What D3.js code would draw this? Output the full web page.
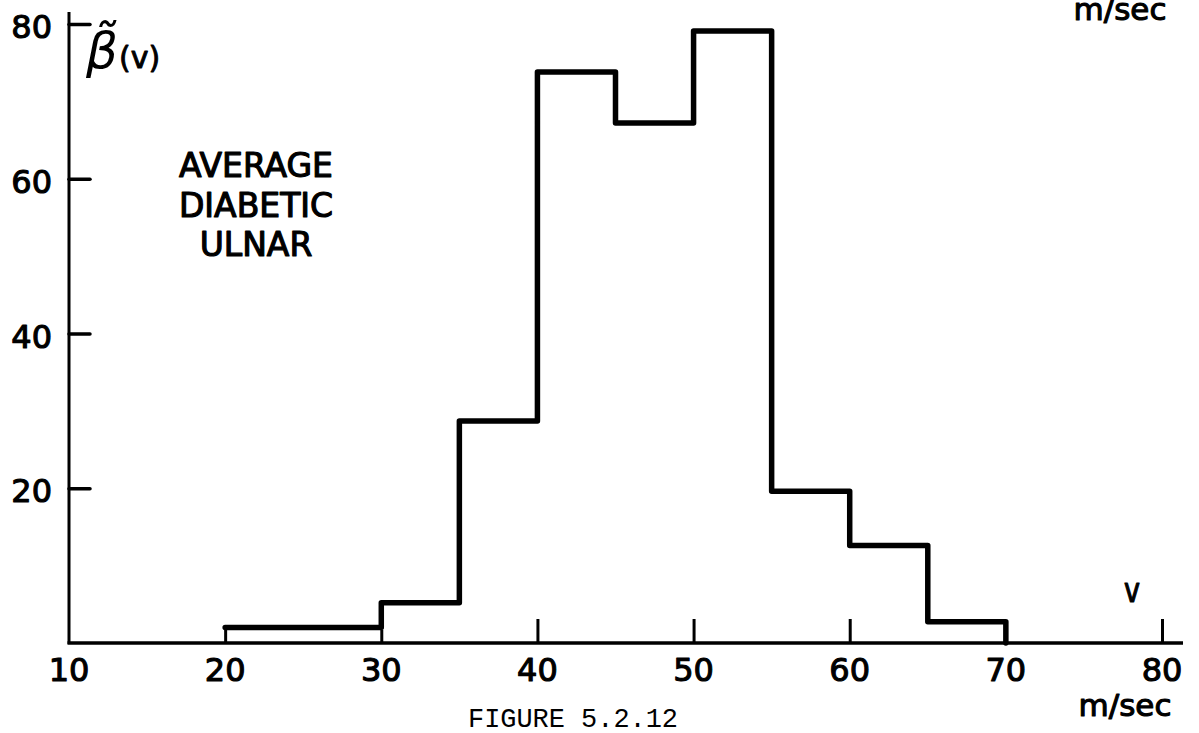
<!DOCTYPE html>
<html><head><meta charset="utf-8">
<script src="https://cdn.jsdelivr.net/npm/d3@7"></script>
<style>
html,body{margin:0;padding:0;background:#fff;}
svg{display:block;}
</style></head>
<body>
<svg id="chart" width="1199" height="733"></svg>
<script>
// Data
const binEdges = [20, 30, 35, 40, 45, 50, 55, 60, 65, 70];
const binValues = [2.0, 5.2, 28.7, 73.8, 67.2, 79.1, 19.6, 12.6, 2.75];
const xTickLabels = [10, 20, 30, 40, 50, 60, 70, 80];
const xTickMarksLong = [40, 50, 60, 80];
const xTickMarksShort = [20, 30];
const yTickLabels = [20, 40, 60, 80];
const annotationLines = ["AVERAGE", "DIABETIC", "ULNAR"];

const svg = d3.select("#chart");
const x = d3.scaleLinear().domain([10, 80]).range([69, 1162]);
const y = d3.scaleLinear().domain([0, 80]).range([643, 24]);
const ink = "#000";
const font = "'DejaVu Sans', sans-serif";

function heavy(sel, w) {
  return sel.attr("fill", ink).attr("stroke", ink).attr("stroke-width", w).attr("stroke-linejoin", "round");
}

// Axis lines
svg.append("line").attr("x1", x(10)).attr("x2", x(10)).attr("y1", 12).attr("y2", y(0) + 1)
  .attr("stroke", ink).attr("stroke-width", 3);
svg.append("line").attr("x1", x(10) - 1.5).attr("x2", 1183).attr("y1", y(0)).attr("y2", y(0))
  .attr("stroke", ink).attr("stroke-width", 3.5);

// Y axis ticks (pointing right)
const yAxis = d3.axisRight(y).tickValues(yTickLabels).tickSize(21).tickSizeOuter(0).tickFormat("");
const gy = svg.append("g").attr("transform", `translate(${x(10)},0)`).call(yAxis);
gy.select(".domain").remove();
gy.selectAll(".tick line").attr("stroke", ink).attr("stroke-width", 3.5).attr("stroke-linecap", "round");
heavy(svg.selectAll(".ylab").data(yTickLabels).join("text")
  .attr("x", 52).attr("y", d => y(d) + 14)
  .attr("text-anchor", "end").attr("font-family", font)
  .attr("font-size", 32).text(d => d), 1.1);

// X axis ticks (pointing up)
[[xTickMarksLong, 24], [xTickMarksShort, 13]].forEach(([vals, len]) => {
  const gx = svg.append("g").attr("transform", `translate(0,${y(0)})`)
    .call(d3.axisTop(x).tickValues(vals).tickSize(len).tickSizeOuter(0).tickFormat(""));
  gx.select(".domain").remove();
  gx.selectAll(".tick line").attr("stroke", ink).attr("stroke-width", 3);
});
heavy(svg.selectAll(".xlab").data(xTickLabels).join("text")
  .attr("x", d => x(d)).attr("y", 681)
  .attr("text-anchor", "middle").attr("font-family", font)
  .attr("font-size", 32).text(d => d), 1.1);

// Histogram step outline
const pts = [];
binValues.forEach((v, i) => {
  pts.push([x(binEdges[i]), y(v)]);
  pts.push([x(binEdges[i + 1]), y(v)]);
});
pts.push([x(binEdges[binEdges.length - 1]), y(0)]);
svg.append("path").attr("d", d3.line()(pts)).attr("fill", "none")
  .attr("stroke", ink).attr("stroke-width", 5.5).attr("stroke-linejoin", "round").attr("stroke-linecap", "round");

// Y label β̃(v)
const yl = svg.append("text").attr("x", 86).attr("y", 68).attr("fill", ink).attr("font-family", font);
yl.append("tspan").attr("font-size", 50).attr("font-style", "italic").text("\u03B2\u0303");
heavy(yl.append("tspan").attr("font-size", 30).attr("dx", 1).text("(v)"), 0.9);

// Annotation
heavy(svg.selectAll(".ann").data(annotationLines).join("text")
  .attr("x", 256).attr("y", (d, i) => 177 + i * 39.5)
  .attr("text-anchor", "middle").attr("font-family", font)
  .attr("font-size", 33).text(d => d), 1.2);

// Units and variable
heavy(svg.append("text").attr("x", 1120).attr("y", 20).attr("text-anchor", "middle")
  .attr("font-family", font).attr("font-size", 31).text("m/sec"), 1.1);
heavy(svg.append("text").attr("x", 1125).attr("y", 716).attr("text-anchor", "middle")
  .attr("font-family", font).attr("font-size", 31).text("m/sec"), 1.1);
heavy(svg.append("text").attr("x", 1132).attr("y", 602).attr("text-anchor", "middle")
  .attr("font-family", font).attr("font-size", 34).attr("textLength", 16).attr("lengthAdjust", "spacingAndGlyphs").text("v"), 1.2);

// Figure caption
svg.append("text").attr("x", 468).attr("y", 727)
  .attr("font-family", "'Liberation Mono', 'DejaVu Sans Mono', monospace")
  .attr("font-size", 27).attr("textLength", 210).attr("lengthAdjust", "spacingAndGlyphs")
  .attr("fill", ink).text("FIGURE 5.2.12");
</script>
</body></html>
